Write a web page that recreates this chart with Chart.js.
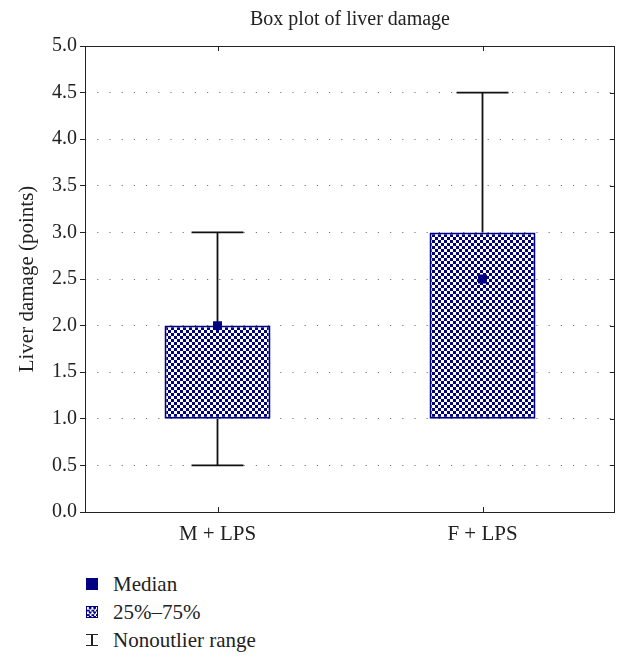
<!DOCTYPE html>
<html>
<head>
<meta charset="utf-8">
<script src="https://cdn.jsdelivr.net/npm/chart.js@4"></script>
<style>
  body { margin:0; background:#fff; font-family:"Liberation Serif", serif; color:#222; }
  #wrap { position:relative; width:628px; height:548px; }
  .leg { position:absolute; left:86px; height:24px; display:flex; align-items:center; font-size:21px; }
  .sym { width:12px; height:12px; margin-right:15px; box-sizing:border-box; }
  .sym.med { background:#000080; }
  .sym.box { border:1.5px solid #000080;
    background-image:repeating-conic-gradient(#000080 0 25%, #fff 0 50%); background-size:4.5px 4.5px; }
  .sym.rng { position:relative; }
  .sym.rng::before { content:''; position:absolute; left:5px; top:0; width:1.5px; height:12px; background:#222; }
  .sym.rng::after { content:''; position:absolute; left:0; top:0; width:11.5px; height:12px;
    border-top:1.5px solid #222; border-bottom:1.5px solid #222; box-sizing:border-box; }
</style>
</head>
<body>
<div id="wrap"><canvas id="box"></canvas></div>
<div class="leg" style="top:572px"><span class="sym med"></span>Median</div>
<div class="leg" style="top:600px"><span class="sym box"></span>25%–75%</div>
<div class="leg" style="top:628px"><span class="sym rng"></span>Nonoutlier range</div>

<script>
// box plot values
const groups = ['M + LPS', 'F + LPS'];
const q1 = [1.0, 1.0];
const q3 = [2.0, 3.0];
const medians = [2.0, 2.5];
const whiskLo = [0.5, 1.0];
const whiskHi = [3.0, 4.5];
const yTicks = [0, 0.5, 1, 1.5, 2, 2.5, 3, 3.5, 4, 4.5, 5];

const NAVY = '#000080';

// navy-on-white checker fill, 3px cells
function checker(){
  const c = document.createElement('canvas');
  c.width = 6; c.height = 6;
  const g = c.getContext('2d');
  g.fillStyle = '#fff'; g.fillRect(0,0,6,6);
  g.fillStyle = NAVY;
  g.fillRect(0,0,3,3); g.fillRect(3,3,3,3);
  return g.createPattern(c, 'repeat');
}

// whiskers with caps, drawn under the boxes
const whiskers = {
  id: 'whiskers',
  beforeDatasetsDraw(chart){
    const {ctx, scales:{x, y}} = chart;
    const bars = chart.getDatasetMeta(1).data;
    ctx.save();
    ctx.strokeStyle = '#111'; ctx.lineWidth = 1.8;
    groups.forEach((g, i) => {
      const px = x.getPixelForValue(i);
      const half = bars[i] ? bars[i].width * 0.245 : 26;
      [[whiskLo[i], q1[i]], [whiskHi[i], q3[i]]].forEach(([end, edge]) => {
        if (end === edge) return;
        const ye = y.getPixelForValue(end), yb = y.getPixelForValue(edge);
        ctx.beginPath();
        ctx.moveTo(px, yb); ctx.lineTo(px, ye);
        ctx.moveTo(px - half, ye); ctx.lineTo(px + half, ye);
        ctx.stroke();
      });
    });
    ctx.restore();
  }
};

// closed frame with inward ticks on right, top and bottom
const frame = {
  id: 'frame',
  afterDatasetsDraw(chart){
    const {ctx, chartArea:a, scales:{x, y}} = chart;
    ctx.save();
    ctx.strokeStyle = '#222'; ctx.lineWidth = 1;
    ctx.strokeRect(a.left + 0.5, a.top + 0.5, a.right - a.left - 1, a.bottom - a.top);
    ctx.beginPath();
    yTicks.forEach(v => {
      const py = Math.round(y.getPixelForValue(v)) + 0.5;
      ctx.moveTo(a.right, py); ctx.lineTo(a.right - 5, py);
    });
    groups.forEach((g, i) => {
      const px = Math.round(x.getPixelForValue(i)) + 0.5;
      ctx.moveTo(px, a.top); ctx.lineTo(px, a.top + 5);
      ctx.moveTo(px, a.bottom); ctx.lineTo(px, a.bottom - 5);
    });
    ctx.stroke();
    ctx.restore();
  }
};

new Chart(document.getElementById('box'), {
  data: {
    labels: groups,
    datasets: [
      { type:'line', label:'Median', data: medians, showLine:false, order:0,
        pointStyle:'rect', pointRadius:6.3, pointBorderWidth:0, pointBackgroundColor:NAVY },
      { type:'bar', label:'25%–75%', data: groups.map((g, i) => [q1[i], q3[i]]), order:1,
        backgroundColor: checker(), borderColor: NAVY, borderWidth: 2, borderSkipped: false,
        barPercentage: 0.4, categoryPercentage: 1.0 }
    ]
  },
  options: {
    responsive: true, maintainAspectRatio: false, animation: false,
    layout: { padding: { right: 13 } },
    plugins: {
      legend: { display: false }, tooltip: { enabled: false },
      title: { display: true, text: 'Box plot of liver damage', fullSize: false, color: '#222',
        font: { family: 'Liberation Serif', size: 20, weight: 'normal' }, padding: { top: 8, bottom: 14 } }
    },
    scales: {
      x: {
        offset: true,
        grid: { display: false, drawTicks: false },
        border: { display: false },
        ticks: { color: '#222', padding: 10, font: { family: 'Liberation Serif', size: 21 } },
        afterFit(s){ s.height = 36; }
      },
      y: {
        min: 0, max: 5,
        afterBuildTicks(s){ s.ticks = yTicks.map(v => ({ value: v })); },
        grid: { color: '#777', lineWidth: 1, tickLength: 5, tickColor: '#222', tickBorderDash: [] },
        border: { display: false, dash: [1.2, 11] },
        ticks: { color: '#222', padding: 3, font: { family: 'Liberation Serif', size: 20 },
          callback: v => Number(v).toFixed(1) },
        title: { display: true, text: 'Liver damage (points)', color: '#222',
          font: { family: 'Liberation Serif', size: 21 }, padding: { top: 15, bottom: 0 } },
        afterFit(s){ s.width = 85; }
      }
    }
  },
  plugins: [whiskers, frame]
});
</script>
</body>
</html>
